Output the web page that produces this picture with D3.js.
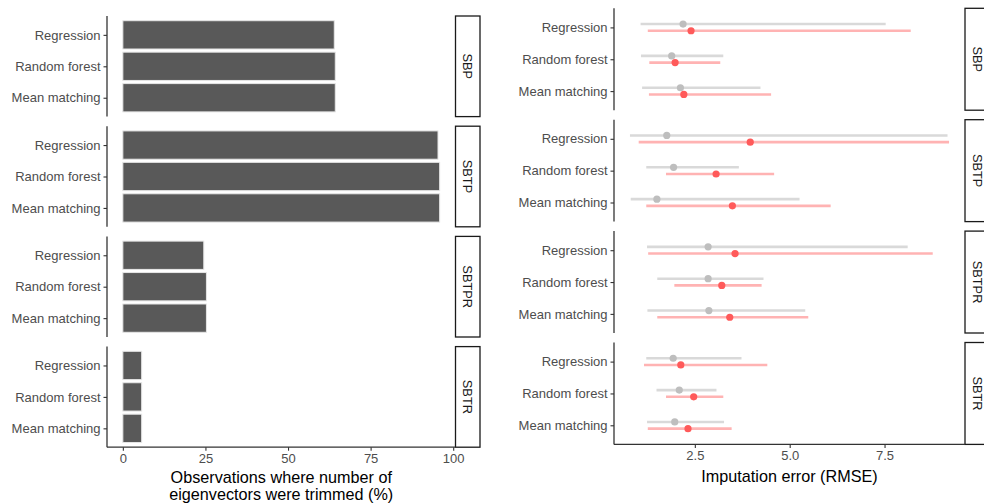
<!DOCTYPE html>
<html>
<head>
<meta charset="utf-8">
<script src="https://cdn.jsdelivr.net/npm/d3@7"></script>
<style>
  html, body { margin: 0; padding: 0; background: #fff; }
  svg { display: block; font-family: "Liberation Sans", Arial, sans-serif; }
</style>
</head>
<body>
<svg id="chart" width="984" height="503"></svg>
<script>
// ---- data ----
const methods = ["Regression", "Random forest", "Mean matching"];
const scenarios = ["SBP", "SBTP", "SBTPR", "SBTR"];

// share of observations with trimmed eigenvectors (%), per scenario, per method
const trimmedSBP   = [64.0, 64.3, 64.3];
const trimmedSBTP  = [95.4, 95.9, 95.9];
const trimmedSBTPR = [24.5, 25.3, 25.3];
const trimmedSBTR  = [5.7, 5.7, 5.7];

// imputation RMSE: [low, median, high] per method
const rmseAllSBP     = [[1.07, 2.19, 7.53], [1.08, 1.89, 3.25], [1.11, 2.12, 4.23]];
const rmseTrimSBP    = [[1.26, 2.40, 8.19], [1.30, 1.98, 3.17], [1.29, 2.21, 4.51]];
const rmseAllSBTP    = [[0.79, 1.76, 9.16], [1.22, 1.94, 3.66], [0.81, 1.50, 5.26]];
const rmseTrimSBTP   = [[1.02, 3.96, 9.20], [1.74, 3.06, 4.59], [1.22, 3.49, 6.08]];
const rmseAllSBTPR   = [[1.24, 2.85, 8.11], [1.51, 2.85, 4.31], [1.25, 2.87, 5.41]];
const rmseTrimSBTPR  = [[1.27, 3.56, 8.77], [1.96, 3.21, 4.26], [1.51, 3.42, 5.49]];
const rmseAllSBTR    = [[1.22, 1.93, 3.73], [1.49, 2.09, 3.07], [1.24, 1.97, 3.27]];
const rmseTrimSBTR   = [[1.16, 2.13, 4.41], [1.74, 2.47, 3.25], [1.26, 2.32, 3.47]];

const barTicks = [0, 25, 50, 75, 100];
const rmseTicks = [2.5, 5.0, 7.5];

const trimmed = [trimmedSBP, trimmedSBTP, trimmedSBTPR, trimmedSBTR];
const rmseAll = [rmseAllSBP, rmseAllSBTP, rmseAllSBTPR, rmseAllSBTR];
const rmseTrim = [rmseTrimSBP, rmseTrimSBTP, rmseTrimSBTPR, rmseTrimSBTR];

// ---- styling ----
const axisColor = "#333333";
const tickText = "#4d4d4d";
const barFill = "#595959";
const allLine = "#d9d9d9", allPoint = "#bebebe";
const trimLine = "#ffb3b3", trimPoint = "#ff5a5a";
const labelSize = 13;
const titleSize = 16.2;

const svg = d3.select("#chart");

function expand(lo, hi, f = 0.05) {
  const r = hi - lo;
  return [lo - f * r, hi + f * r];
}

// y positions for one facet panel, with ggplot-style 0.6 unit expansion
function bandFor(top, h) {
  const unit = h / 3.2;
  return d3.scalePoint().domain(methods).range([top + 0.6 * unit, top + h - 0.6 * unit]);
}

function drawStrip(g, x, y, w, h, label) {
  g.append("rect").attr("x", x).attr("y", y).attr("width", w).attr("height", h)
    .attr("fill", "#fff").attr("stroke", "#1a1a1a").attr("stroke-width", 1.3);
  g.append("text")
    .attr("transform", `translate(${x + w / 2},${y + h / 2}) rotate(90)`)
    .attr("text-anchor", "middle").attr("dominant-baseline", "central")
    .attr("font-size", 12.8).attr("fill", "#1a1a1a").text(label);
}

function drawYAxis(g, x, yScale, top, h) {
  const ax = g.append("g").attr("transform", `translate(${x},0)`)
    .call(d3.axisLeft(yScale).tickSize(3.5).tickPadding(3));
  ax.select(".domain").remove();
  ax.selectAll(".tick line").attr("stroke", axisColor).attr("stroke-width", 1.1);
  ax.selectAll(".tick text").attr("fill", tickText).attr("font-size", labelSize)
    .attr("font-family", "Liberation Sans, Arial, sans-serif");
  g.append("line").attr("x1", x).attr("x2", x).attr("y1", top).attr("y2", top + h)
    .attr("stroke", axisColor).attr("stroke-width", 1.3);
}

function drawXAxis(g, xScale, y, x0, x1, ticks, fmt) {
  const ax = g.append("g").attr("transform", `translate(0,${y})`)
    .call(d3.axisBottom(xScale).tickValues(ticks).tickFormat(fmt).tickSize(3.5).tickPadding(3));
  ax.select(".domain").remove();
  ax.selectAll(".tick line").attr("stroke", axisColor).attr("stroke-width", 1.1);
  ax.selectAll(".tick text").attr("fill", tickText).attr("font-size", labelSize)
    .attr("font-family", "Liberation Sans, Arial, sans-serif");
  g.append("line").attr("x1", x0).attr("x2", x1).attr("y1", y).attr("y2", y)
    .attr("stroke", axisColor).attr("stroke-width", 1.3);
}

// ---- left: bar chart of trimmed share ----
{
  const g = svg.append("g");
  const L = { x0: 107, x1: 455.5, top: 16, h: 100.6, gap: 9.6, stripW: 24.5 };
  const maxVal = d3.max(trimmed.flat());
  const x = d3.scaleLinear().domain(expand(0, maxVal)).range([L.x0, L.x1]);

  scenarios.forEach((s, i) => {
    const top = L.top + i * (L.h + L.gap);
    const y = bandFor(top, L.h);
    const bw = 0.9 * y.step();
    g.append("g").selectAll("rect").data(methods).join("rect")
      .attr("x", x(0))
      .attr("y", m => y(m) - bw / 2)
      .attr("width", (m, j) => x(trimmed[i][j]) - x(0))
      .attr("height", bw)
      .attr("fill", barFill)
      .attr("stroke", "#e6e6e6").attr("stroke-width", 1);
    drawYAxis(g, L.x0, y, top, L.h);
    drawStrip(g, L.x1, top, L.stripW, L.h, s);
  });

  const bottom = L.top + 4 * L.h + 3 * L.gap;
  drawXAxis(g, x, bottom, L.x0, L.x1, barTicks, d3.format("d"));
  const cx = (L.x0 + L.x1) / 2;
  g.append("text").attr("x", cx).attr("y", 482.5).attr("text-anchor", "middle")
    .attr("font-size", titleSize).attr("fill", "#000")
    .text("Observations where number of");
  g.append("text").attr("x", cx).attr("y", 499.5).attr("text-anchor", "middle")
    .attr("font-size", titleSize).attr("fill", "#000")
    .text("eigenvectors were trimmed (%)");
}

// ---- right: RMSE ranges with medians ----
{
  const g = svg.append("g");
  const R = { x0: 614, x1: 965, top: 8.3, h: 101.9, gap: 9.5, stripW: 25 };
  const all = rmseAll.flat(2).concat(rmseTrim.flat(2));
  const x = d3.scaleLinear().domain(expand(d3.min(all), d3.max(all))).range([R.x0, R.x1]);

  scenarios.forEach((s, i) => {
    const top = R.top + i * (R.h + R.gap);
    const y = bandFor(top, R.h);
    const dodge = 0.105 * y.step();
    const groups = [
      { data: rmseAll[i], off: -dodge, line: allLine, point: allPoint },
      { data: rmseTrim[i], off: dodge, line: trimLine, point: trimPoint }
    ];
    groups.forEach(gr => {
      g.append("g").selectAll("line").data(methods).join("line")
        .attr("x1", (m, j) => x(gr.data[j][0]))
        .attr("x2", (m, j) => x(gr.data[j][2]))
        .attr("y1", m => y(m) + gr.off)
        .attr("y2", m => y(m) + gr.off)
        .attr("stroke", gr.line).attr("stroke-width", 2.6);
    });
    groups.forEach(gr => {
      g.append("g").selectAll("circle").data(methods).join("circle")
        .attr("cx", (m, j) => x(gr.data[j][1]))
        .attr("cy", m => y(m) + gr.off)
        .attr("r", 3.6)
        .attr("fill", gr.point);
    });
    drawYAxis(g, R.x0, y, top, R.h);
    drawStrip(g, R.x1, top, R.stripW, R.h, s);
  });

  const bottom = R.top + 4 * R.h + 3 * R.gap;
  drawXAxis(g, x, bottom, R.x0, R.x1, rmseTicks, d3.format(".1f"));
  g.append("text").attr("x", (R.x0 + R.x1) / 2).attr("y", 482).attr("text-anchor", "middle")
    .attr("font-size", titleSize).attr("fill", "#000")
    .text("Imputation error (RMSE)");
}
</script>
</body>
</html>
